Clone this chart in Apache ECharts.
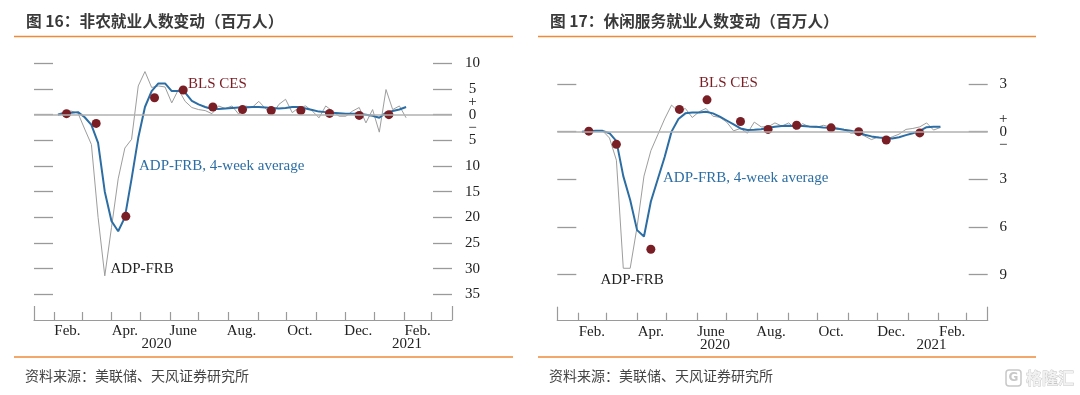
<!DOCTYPE html>
<html><head><meta charset="utf-8">
<script src="https://cdn.jsdelivr.net/npm/echarts@6/dist/echarts.min.js"></script>
<style>html,body{margin:0;padding:0;background:#fff}#c{width:1080px;height:395px}</style>
</head><body><div id="c"></div>
<script>
// ---------------- data ----------------
const weekStart = '2020-02-05';
const nfpWeekly = [0.1,0.6,0.7,0.3,-2.8,-5.8,-20.0,-31.4,-22.0,-12.5,-6.5,-4.8,5.6,8.4,5.3,5.6,5.4,2.3,4.9,2.6,1.4,1.0,0.8,0.2,1.7,1.2,1.7,0.1,1.7,1.4,2.6,1.2,0.0,2.0,3.0,0.4,1.4,1.7,0.7,-0.6,1.7,0.7,-0.3,-0.3,0.7,1.4,-1.6,1.0,-3.4,4.9,1.0,1.7,-0.6];
const nfpAvg = [0,0.3,0.4,0.5,-0.5,-2.0,-5.5,-15.0,-20.7,-22.7,-20.0,-12.5,-4.5,1.5,4.6,6.1,6.1,4.6,4.6,4.3,2.7,2.0,1.5,1.1,1.1,1.2,1.3,1.4,1.4,1.5,1.5,1.4,1.3,1.2,1.3,1.5,1.5,1.2,0.9,0.6,0.5,0.4,0.3,0.2,0.2,0.2,0.0,-0.2,-0.6,0.4,0.7,1.0,1.5];
const nfpBlsDates = ['2020-02-14','2020-03-16','2020-04-16','2020-05-16','2020-06-15','2020-07-16','2020-08-16','2020-09-15','2020-10-16','2020-11-15','2020-12-16','2021-01-16'];
const nfpBls = [0.2,-1.7,-19.8,3.3,4.8,1.5,1.0,0.8,0.8,0.25,-0.14,0.0];

const leisureWeekly = [0,0.05,0.05,0.05,-0.4,-1.8,-8.6,-8.6,-6.0,-2.8,-1.2,-0.2,0.8,1.67,1.25,1.46,0.89,1.25,1.46,0.97,0.9,0.6,0.05,0.2,-0.1,0.6,0.3,0.3,0.55,0.35,0.55,0.14,0.5,0.3,0.26,0.4,0.3,0.14,0.14,-0.1,-0.08,-0.28,-0.5,-0.33,-0.5,-0.33,-0.16,0.14,0.2,0.3,0.55,0.1,0.26];
const leisureAvg = [0,0.02,0.05,0.05,-0.1,-0.6,-2.8,-4.3,-6.2,-6.6,-4.4,-3.0,-1.6,0,0.8,1.15,1.2,1.2,1.25,1.15,0.95,0.7,0.45,0.2,0.1,0.12,0.15,0.25,0.3,0.35,0.37,0.36,0.35,0.32,0.3,0.26,0.24,0.2,0.12,0.05,-0.05,-0.2,-0.3,-0.37,-0.4,-0.43,-0.35,-0.22,-0.1,0.05,0.28,0.3,0.3];
const leisureBlsDates = ['2020-02-12','2020-03-11','2020-04-15','2020-05-14','2020-06-11','2020-07-15','2020-08-12','2020-09-10','2020-10-15','2020-11-12','2020-12-10','2021-01-13'];
const leisureBls = [0.03,-0.8,-7.4,1.4,2.0,0.64,0.14,0.4,0.24,0.0,-0.53,-0.08];

const monthStarts = ['2020-02-01','2020-03-01','2020-04-01','2020-05-01','2020-06-01','2020-07-01','2020-08-01','2020-09-01','2020-10-01','2020-11-01','2020-12-01','2021-01-01','2021-02-01','2021-03-01'];
const monthLabelDates = ['2020-02-15','2020-04-15','2020-06-15','2020-08-15','2020-10-15','2020-12-15','2021-02-15'];
const monthLabels = ['Feb.','Apr.','June','Aug.','Oct.','Dec.','Feb.'];
const yearLabels = ['2020','2021'];
const nfpYearDates = ['2020-05-18','2021-02-04'];
const leisureYearDates = ['2020-06-19','2021-01-25'];
const axisStart = '2020-01-11';
const axisEnd = '2021-03-23';
const nfpTicks = [10,5,0,-5,-10,-15,-20,-25,-30,-35];
const leisureTicks = [3,0,-3,-6,-9];

// ---------------- helpers ----------------
const BASE = Date.UTC(2020,0,1);
function dn(s){const p=s.split('-').map(Number);return (Date.UTC(p[0],p[1]-1,p[2])-BASE)/86400000;}
const w0 = dn(weekStart);
function weekly(vals){return vals.map((v,i)=>[w0+7*i,v]);}
function pairs(dates,vals){return dates.map((d,i)=>[dn(d),vals[i]]);}
const monthMap = {}; monthLabelDates.forEach((d,i)=>monthMap[dn(d)]=monthLabels[i]);
function yearMap(dates){const m={};dates.forEach((d,i)=>m[dn(d)]=yearLabels[i]);return m;}
const nfpYM = yearMap(nfpYearDates), leiYM = yearMap(leisureYearDates);
const xMin = dn(axisStart), xMax = dn(axisEnd);

const SERIF = 'Liberation Serif';
const AX = '#9a9a9a';
const GRAY = '#9d9d9d', BLUE = '#2c6ea4', RED = '#7a1e25';

function xAxes(grid, ym){
  return [
    {type:'value',gridIndex:grid,min:xMin,max:xMax,position:'bottom',
     axisLine:{show:true,onZero:false,lineStyle:{color:AX,width:1.2}},
     axisTick:{show:true,inside:true,length:8,customValues:monthStarts.map(dn),lineStyle:{color:AX,width:1.2}},
     axisLabel:{show:true,customValues:monthLabelDates.map(dn),formatter:v=>monthMap[v]||'',margin:4,color:'#222',fontFamily:SERIF,fontSize:15},
     splitLine:{show:false}},
    {type:'value',gridIndex:grid,min:xMin,max:xMax,position:'bottom',
     axisLine:{show:false,onZero:false},
     axisTick:{show:true,inside:true,length:14,customValues:[xMin,xMax],lineStyle:{color:AX,width:1.2}},
     axisLabel:{show:true,customValues:Object.keys(ym).map(Number),formatter:v=>ym[v]||'',margin:17,color:'#222',fontFamily:SERIF,fontSize:15},
     splitLine:{show:false}}
  ];
}
function yAxes(grid,min,max,ticks,margin){
  const tick={show:true,inside:true,length:19,customValues:ticks,lineStyle:{color:AX,width:1.3}};
  return [
    {type:'value',gridIndex:grid,min:min,max:max,position:'left',axisLine:{show:false,onZero:false},axisTick:tick,axisLabel:{show:false},splitLine:{show:false}},
    {type:'value',gridIndex:grid,min:min,max:max,position:'right',axisLine:{show:false,onZero:false},axisTick:tick,
     axisLabel:{show:true,customValues:ticks,align:'center',margin:margin,color:'#222',fontFamily:SERIF,fontSize:15,
       formatter:v=>v===0?'{p|+}\n{z|0}\n{m|−}':String(Math.abs(v)),
       rich:{p:{fontFamily:SERIF,fontSize:15,lineHeight:11,color:'#222'},z:{fontFamily:SERIF,fontSize:15,lineHeight:15,color:'#222'},m:{fontFamily:SERIF,fontSize:15,lineHeight:11,color:'#222'}}},
     splitLine:{show:false}}
  ];
}
function seriesFor(xi,yi,wk,avg,bd,bv){
  return [
    {type:'line',xAxisIndex:xi,yAxisIndex:yi,data:weekly(wk),showSymbol:false,symbol:'none',lineStyle:{color:GRAY,width:1},z:2,silent:true,
     markLine:{silent:true,symbol:'none',label:{show:false},lineStyle:{color:'#b0b0b0',width:1.5,type:'solid'},data:[{yAxis:0}]}},
    {type:'line',xAxisIndex:xi,yAxisIndex:yi,data:weekly(avg),showSymbol:false,symbol:'none',lineStyle:{color:BLUE,width:2},z:3,silent:true},
    {type:'scatter',xAxisIndex:xi,yAxisIndex:yi,data:pairs(bd,bv),symbolSize:9,itemStyle:{color:RED,opacity:1},z:4,silent:true}
  ];
}
function txt(x,y,t,color,size){return {type:'text',x:x,y:y,style:{text:t,fill:color,font:size+'px "'+SERIF+'"',textVerticalAlign:'middle'}};}
function cjk(x,y,t,size,bold,color){return {type:'text',x:x,y:y,style:{text:t,fill:color,font:(bold?'bold ':'')+size+'px "Noto Sans CJK SC"',textVerticalAlign:'middle'}};}
function hl(x1,x2,y){return {type:'line',shape:{x1:x1,y1:y,x2:x2,y2:y},style:{stroke:'#ef8a3a',lineWidth:1.5}};}

const chart = echarts.init(document.getElementById('c'),null,{renderer:'canvas'});
chart.setOption({
  animation:false,
  backgroundColor:'#fff',
  grid:[
    {left:34,width:418,top:37.7,height:282.3},
    {left:557.3,width:430.4,top:36.3,height:284.4}
  ],
  xAxis:[...xAxes(0,nfpYM),...xAxes(1,leiYM)],
  yAxis:[...yAxes(0,-40,15,nfpTicks,20.5),...yAxes(1,-11.9,6,leisureTicks,15.5)],
  series:[...seriesFor(0,0,nfpWeekly,nfpAvg,nfpBlsDates,nfpBls),...seriesFor(2,2,leisureWeekly,leisureAvg,leisureBlsDates,leisureBls)],
  graphic:[
    cjk(26,21,'图 16：非农就业人数变动（百万人）',15.7,true,'#3a3a3a'),
    cjk(550,21,'图 17：休闲服务就业人数变动（百万人）',15.7,true,'#3a3a3a'),
    hl(14,513,36.5), hl(538,1036,36.5),
    hl(14,513,357), hl(538,1036,357),
    cjk(25,376,'资料来源：美联储、天风证券研究所',14,false,'#444'),
    cjk(549,376,'资料来源：美联储、天风证券研究所',14,false,'#444'),
    txt(188,84,'BLS CES',RED,15),
    txt(139,166.5,'ADP-FRB, 4-week average',BLUE,15),
    txt(110.5,269,'ADP-FRB','#222',15),
    txt(699,83,'BLS CES',RED,15),
    txt(663,178,'ADP-FRB, 4-week average',BLUE,15),
    txt(600.5,280,'ADP-FRB','#222',15),
    {type:'rect',shape:{x:1006,y:370,width:15,height:16,r:3},style:{fill:'#fff',stroke:'#c8c8c8',lineWidth:1.5}},
    {type:'text',x:1013.5,y:378,style:{text:'G',fill:'#c8c8c8',font:'bold 12px "DejaVu Sans"',textAlign:'center',textVerticalAlign:'middle'}},
    {type:'text',x:1026,y:378,style:{text:'格隆汇',fill:'#f2f2f2',stroke:'#c4c4c4',lineWidth:0.8,font:'bold 16px "Noto Sans CJK SC"',textVerticalAlign:'middle'}}
  ]
});
</script>
</body></html>
